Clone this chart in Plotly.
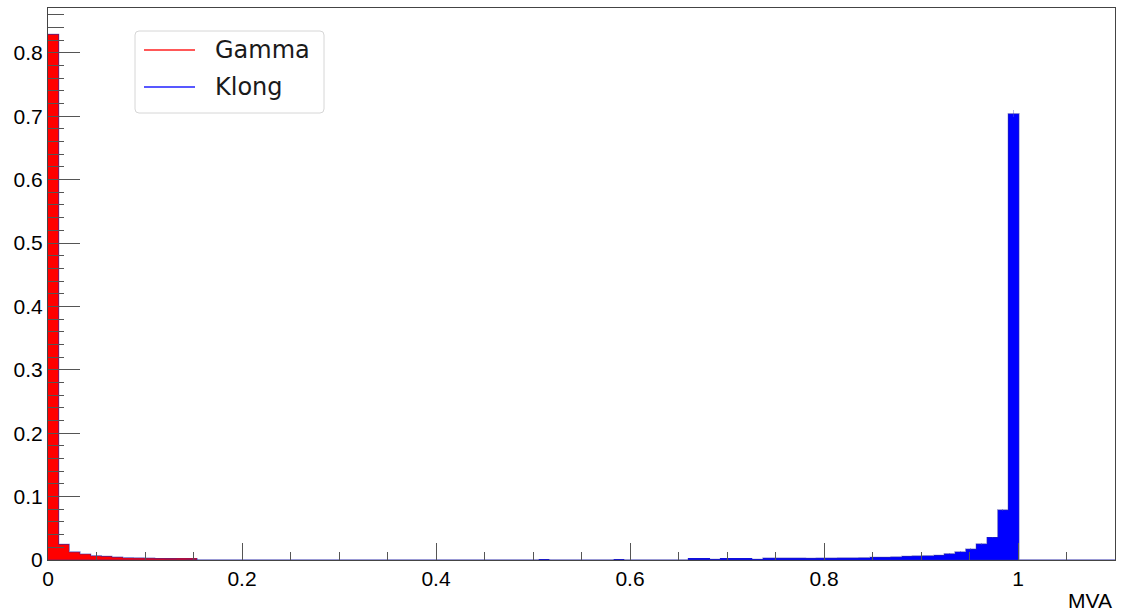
import plotly.graph_objects as go

# Histogram binning: 100 bins over [0, 1.1]
n_bins = 100
x_min, x_max = 0.0, 1.1
bin_width = (x_max - x_min) / n_bins

# Normalised MVA output, Gamma sample (non-empty bins at low MVA)
gamma_head = [0.829, 0.0245, 0.0127, 0.0095, 0.0068, 0.0058, 0.0046, 0.0036,
              0.0032, 0.0028, 0.0024, 0.0022, 0.0020, 0.0019]
gamma = gamma_head + [0.0] * (n_bins - len(gamma_head))

# Normalised MVA output, Klong sample: bins 0-59 nearly empty, 60-90 filled
klong_low = [0.0] * 60
klong_low[46] = 0.0005
klong_low[53] = 0.0005
klong_mid = [0.0018, 0.0018, 0.0010, 0.0020, 0.0020, 0.0020, 0.0012, 0.0028,
             0.0028, 0.0030, 0.0030, 0.0025, 0.0030, 0.0030, 0.0032, 0.0035,
             0.0038, 0.0040, 0.0042, 0.0050, 0.0058, 0.0065, 0.0068, 0.0072,
             0.0102, 0.0130, 0.0172, 0.0255, 0.0355, 0.0790, 0.7040]
klong = klong_low + klong_mid
klong = klong + [0.0] * (n_bins - len(klong))

# Statistical errors on the Klong peak bins
klong_err = [0.0] * n_bins
for i, e in zip(range(84, 91), [0.0008, 0.0009, 0.0010, 0.0012, 0.0014, 0.0022, 0.0060]):
    klong_err[i] = e

x_tick_vals = [0, 0.2, 0.4, 0.6, 0.8, 1.0]
x_tick_text = ["0", "0.2", "0.4", "0.6", "0.8", "1"]
y_tick_vals = [0, 0.1, 0.2, 0.3, 0.4, 0.5, 0.6, 0.7, 0.8]
y_tick_text = ["0", "0.1", "0.2", "0.3", "0.4", "0.5", "0.6", "0.7", "0.8"]
y_top = 0.8707

centers = [x_min + (i + 0.5) * bin_width for i in range(n_bins)]
edges = [x_min + i * bin_width for i in range(n_bins + 1)]

W, H = 1124, 615
L, R, T, B = 48, 1115, 8, 560

fig = go.Figure()

fig.add_trace(go.Bar(
    x=centers, y=klong, width=bin_width,
    marker=dict(color="#0000ff", line=dict(width=0)),
    error_y=dict(type="data", array=klong_err, visible=True,
                 color="rgba(90,90,210,0.45)", thickness=1, width=0),
    showlegend=False, hoverinfo="skip",
))
fig.add_trace(go.Bar(
    x=centers, y=gamma, width=bin_width,
    marker=dict(color="#ff0000", line=dict(width=0)),
    showlegend=False, hoverinfo="skip",
))

# Histogram outlines (step lines), default dark-blue line colour
for vals in (klong, gamma):
    fig.add_trace(go.Scatter(
        x=edges, y=vals + [vals[-1]], mode="lines",
        line=dict(shape="hv", color="rgba(40,40,170,0.55)", width=1.2),
        showlegend=False, hoverinfo="skip",
    ))


def px_x(p):
    return (p - L) / (R - L)


def px_y(p):
    return (B - p) / (B - T)


# Legend box with rounded corners
bx0, bx1, by0, by1, rad = 135, 324, 31, 113, 4
rx, ry = rad / (R - L), rad / (B - T)
X0, X1, Y0, Y1 = px_x(bx0), px_x(bx1), px_y(by1), px_y(by0)
path = (f"M {X0+rx},{Y0} L {X1-rx},{Y0} Q {X1},{Y0} {X1},{Y0+ry} "
        f"L {X1},{Y1-ry} Q {X1},{Y1} {X1-rx},{Y1} "
        f"L {X0+rx},{Y1} Q {X0},{Y1} {X0},{Y1-ry} "
        f"L {X0},{Y0+ry} Q {X0},{Y0} {X0+rx},{Y0} Z")
shapes = [dict(type="path", xref="paper", yref="paper", path=path,
               fillcolor="rgba(255,255,255,0.8)",
               line=dict(color="#d6d6d6", width=1), layer="above")]

legend_items = [("Gamma", "#ff2020", 50), ("Klong", "#2020ff", 87)]
annotations = []
for name, col, yy in legend_items:
    shapes.append(dict(type="line", xref="paper", yref="paper",
                       x0=px_x(144), x1=px_x(195), y0=px_y(yy), y1=px_y(yy),
                       line=dict(color=col, width=1.6), layer="above"))
    annotations.append(dict(text=name, xref="paper", yref="paper",
                            x=px_x(213), y=px_y(yy), xanchor="left", yanchor="middle",
                            showarrow=False,
                            font=dict(family="DejaVu Sans", size=24, color="#1a1a1a")))

annotations.append(dict(text="MVA", xref="paper", yref="paper",
                        x=px_x(1114), y=px_y(600), xanchor="right", yanchor="middle",
                        showarrow=False,
                        font=dict(family="Liberation Sans, Arial", size=21, color="#000")))

axis_font = dict(family="Liberation Sans, Arial", size=21, color="#000")

fig.update_layout(
    width=W, height=H,
    margin=dict(l=L, r=W - R, t=T, b=H - B, pad=0),
    paper_bgcolor="white", plot_bgcolor="white",
    barmode="overlay", bargap=0,
    showlegend=False,
    shapes=shapes, annotations=annotations,
    xaxis=dict(range=[x_min, x_max], tickmode="array", tickvals=x_tick_vals,
               ticktext=x_tick_text, ticks="inside", ticklen=17, tickwidth=1,
               tickcolor="#555", minor=dict(dtick=0.05, tick0=0, ticks="inside",
                                            ticklen=8, tickwidth=1, tickcolor="#555"),
               showgrid=False, zeroline=False, showline=True, mirror=True,
               linecolor="#444", linewidth=1, tickfont=axis_font),
    yaxis=dict(range=[0, y_top], tickmode="array", tickvals=y_tick_vals,
               ticktext=y_tick_text, ticks="inside", ticklen=32, tickwidth=1,
               tickcolor="#555", minor=dict(dtick=0.02, tick0=0, ticks="inside",
                                            ticklen=16, tickwidth=1, tickcolor="#555"),
               showgrid=False, zeroline=False, showline=True, mirror=True,
               linecolor="#444", linewidth=1, tickfont=axis_font),
)

fig.write_html("out.html")
